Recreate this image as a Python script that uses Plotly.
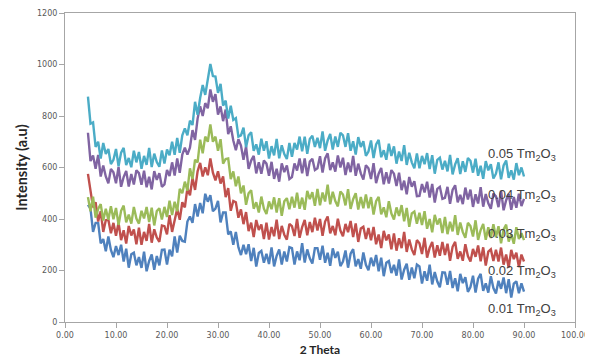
import numpy as np
import plotly.graph_objects as go

# 2-theta grid (0.5 deg step)
two_theta = np.arange(4.5, 90.01, 0.5)

s001 = [455, 440, 350, 385, 385, 305, 322, 275, 332, 280,
        252, 295, 260, 300, 235, 285, 211, 263, 269, 220,
        252, 210, 273, 197, 237, 262, 203, 256, 220, 280,
        281, 223, 281, 255, 332, 270, 335, 315, 312, 390,
        410, 385, 458, 410, 462, 422, 498, 467, 492, 430,
        440, 470, 387, 425, 425, 340, 352, 300, 350, 290,
        260, 300, 263, 302, 237, 288, 215, 268, 276, 230,
        265, 225, 290, 216, 257, 282, 223, 274, 235, 291,
        287, 223, 274, 240, 306, 231, 282, 247, 227, 287,
        287, 242, 296, 230, 269, 218, 286, 249, 273, 217,
        235, 278, 211, 265, 283, 216, 244, 207, 270, 222,
        201, 250, 217, 260, 197, 250, 178, 230, 237, 190,
        222, 180, 243, 165, 203, 226, 164, 212, 170, 223,
        216, 149, 197, 160, 223, 146, 194, 157, 135, 193,
        192, 145, 198, 132, 170, 119, 187, 151, 174, 117,
        136, 180, 114, 168, 187, 121, 150, 114, 178, 132,
        111, 160, 129, 173, 112, 166, 95, 149, 158, 112,
        150, 118]

s002 = [575, 510, 445, 465, 390, 430, 350, 395, 397, 345,
        385, 335, 386, 318, 356, 305, 373, 336, 359, 302,
        366, 300, 350, 315, 381, 308, 360, 328, 311, 375,
        372, 340, 415, 350, 402, 440, 397, 465, 445, 520,
        492, 560, 513, 585, 618, 565, 601, 570, 635, 580,
        550, 585, 538, 565, 485, 520, 432, 470, 465, 405,
        437, 380, 427, 353, 386, 330, 396, 357, 379, 322,
        386, 320, 369, 333, 397, 322, 373, 339, 320, 381,
        372, 334, 400, 327, 369, 396, 337, 388, 349, 405,
        355, 400, 335, 390, 410, 344, 373, 337, 401, 355,
        333, 381, 349, 392, 330, 383, 311, 363, 370, 322,
        365, 317, 369, 302, 340, 287, 354, 317, 340, 282,
        344, 277, 325, 287, 350, 272, 320, 282, 260, 318,
        306, 264, 327, 250, 288, 311, 250, 298, 257, 311,
        260, 304, 238, 292, 311, 245, 274, 238, 302, 256,
        235, 284, 253, 297, 236, 290, 219, 273, 282, 237,
        281, 235, 289, 223, 262, 211, 280, 244, 269, 213,
        262, 235]

s003 = [485, 430, 487, 405, 439, 458, 394, 440, 397, 450,
        399, 443, 377, 432, 452, 387, 417, 382, 447, 402,
        382, 432, 402, 447, 388, 444, 375, 431, 442, 398,
        447, 408, 471, 415, 467, 430, 517, 500, 545, 510,
        597, 555, 630, 620, 708, 655, 720, 700, 767, 700,
        720, 665, 710, 615, 633, 635, 555, 585, 527, 565,
        500, 530, 455, 500, 512, 440, 465, 425, 487, 440,
        419, 468, 438, 484, 425, 481, 412, 469, 481, 438,
        486, 444, 502, 440, 483, 436, 509, 477, 504, 451,
        517, 453, 503, 468, 533, 457, 506, 470, 449, 507,
        495, 453, 516, 439, 477, 500, 437, 485, 442, 495,
        442, 485, 417, 469, 486, 418, 445, 407, 469, 421,
        398, 445, 412, 454, 391, 443, 370, 422, 429, 382,
        424, 377, 430, 362, 400, 348, 416, 379, 402, 345,
        408, 341, 389, 352, 415, 338, 386, 349, 327, 385,
        373, 332, 395, 319, 357, 381, 319, 368, 326, 380,
        329, 372, 306, 360, 378, 312, 341, 304, 368, 322,
        345, 318]

s004 = [735, 625, 647, 595, 649, 565, 608, 565, 539, 594,
        581, 539, 602, 525, 563, 587, 526, 575, 534, 589,
        578, 533, 588, 523, 564, 515, 586, 552, 578, 525,
        534, 590, 567, 620, 569, 635, 579, 650, 677, 650,
        677, 745, 707, 790, 838, 800, 850, 830, 903, 855,
        885, 805, 837, 780, 825, 730, 760, 705, 667, 710,
        685, 630, 682, 595, 627, 645, 577, 620, 576, 627,
        615, 568, 622, 556, 595, 545, 616, 582, 608, 555,
        563, 616, 588, 635, 578, 635, 567, 623, 634, 590,
        597, 644, 580, 635, 655, 590, 620, 584, 647, 600,
        638, 571, 619, 582, 645, 568, 615, 577, 553, 609,
        597, 555, 617, 539, 576, 598, 535, 582, 538, 590,
        576, 528, 580, 512, 549, 496, 563, 525, 547, 489,
        490, 536, 503, 545, 483, 536, 464, 517, 525, 478,
        482, 525, 459, 513, 531, 465, 494, 458, 522, 476,
        514, 447, 496, 460, 524, 448, 497, 461, 440, 499,
        488, 446, 510, 434, 473, 497, 436, 485, 444, 498,
        450, 478]

s005 = [875, 770, 775, 680, 700, 635, 695, 653, 672, 613,
        630, 672, 605, 658, 676, 609, 637, 601, 665, 620,
        660, 595, 645, 610, 676, 602, 654, 621, 603, 666,
        615, 670, 647, 700, 649, 715, 657, 725, 752, 725,
        782, 765, 855, 805, 870, 920, 882, 935, 1002, 955,
        953, 890, 925, 840, 860, 790, 840, 785, 792, 720,
        725, 755, 679, 725, 737, 665, 690, 650, 712, 665,
        702, 635, 683, 647, 711, 636, 686, 652, 633, 695,
        642, 695, 670, 720, 663, 720, 653, 711, 723, 680,
        715, 675, 740, 665, 705, 730, 670, 720, 680, 735,
        725, 680, 733, 665, 702, 650, 718, 680, 702, 645,
        662, 705, 637, 690, 707, 640, 667, 630, 692, 645,
        682, 615, 662, 625, 687, 610, 657, 620, 597, 655,
        597, 645, 613, 656, 594, 648, 576, 630, 638, 592,
        626, 585, 649, 573, 612, 636, 575, 624, 583, 637,
        626, 580, 634, 568, 607, 556, 625, 589, 613, 557,
        576, 620, 554, 608, 627, 560, 589, 553, 617, 570,
        600, 565]

labels = ["0.01 Tm<sub>2</sub>O<sub>3</sub>", "0.02 Tm<sub>2</sub>O<sub>3</sub>",
          "0.03 Tm<sub>2</sub>O<sub>3</sub>", "0.04 Tm<sub>2</sub>O<sub>3</sub>",
          "0.05 Tm<sub>2</sub>O<sub>3</sub>"]
label_x = [89.6, 89.6, 89.6, 89.6, 89.6]
label_y = [47, 195, 339, 491, 650]

series = [s001, s002, s003, s004, s005]
colors = ["#4f81bd", "#c0504d", "#9bbb59", "#8064a2", "#4bacc6"]

fig = go.Figure()
for s, c, name in zip(series, colors, labels):
    fig.add_trace(go.Scatter(x=two_theta, y=s, mode="lines", name=name,
                             line=dict(color=c, width=2.4), showlegend=False))

for t, lx, ly in zip(labels, label_x, label_y):
    fig.add_annotation(x=lx, y=ly, xref="x", yref="y", text=t, showarrow=False,
                       xanchor="center", yanchor="middle",
                       font=dict(family="Liberation Sans", size=13, color="#404040"))

axis_common = dict(showline=True, linecolor="#a6a6a6", linewidth=1, mirror=True,
                   ticks="outside", ticklen=5, tickcolor="#a6a6a6", showgrid=False,
                   zeroline=False, automargin=False,
                   tickfont=dict(family="DejaVu Sans", size=8, color="#595959"))

fig.update_xaxes(range=[0, 100], dtick=10, tickformat=".2f",
                 title=dict(text="<b>2 Theta</b>", standoff=7,
                            font=dict(family="Lato", size=12, color="#262626")),
                 **axis_common)
fig.update_yaxes(range=[0, 1200], dtick=200,
                 title=dict(text="<b>Intensity (a.u)</b>", standoff=5,
                            font=dict(family="Lato", size=14.5, color="#262626")),
                 **axis_common)

# page body has an 8px default margin, so the figure is sized to fit the window
fig.update_layout(width=585, height=355, margin=dict(l=57, r=18, t=5, b=41),
                  plot_bgcolor="white", paper_bgcolor="white")

fig.write_html("out.html")
